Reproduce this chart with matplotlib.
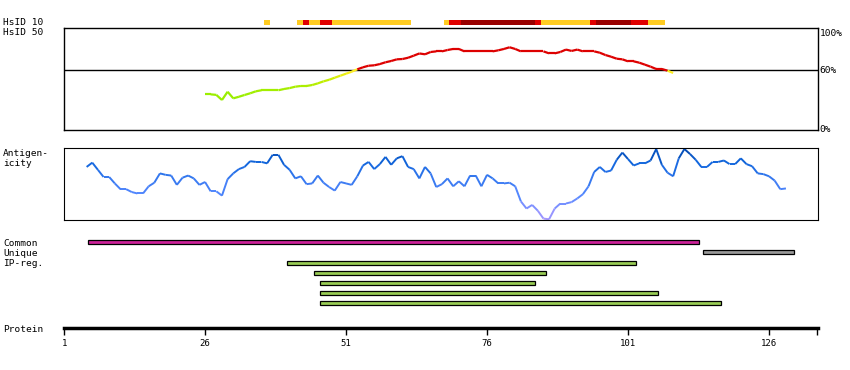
import numpy as np
import matplotlib
matplotlib.use("Agg")
import matplotlib.pyplot as plt
from matplotlib.collections import LineCollection
from matplotlib.colors import LinearSegmentedColormap

# residue numbering of the protein axis
tick_res = [1, 26, 51, 76, 101, 126]
tick_labels = ["1", "26", "51", "76", "101", "126"]
x_lo, x_hi = 0.9, 134.6

# HsID 10 strip: (start, end, level) 1=orange 2=red 3=dark red
hs10_start = [36.4, 42.3, 43.4, 44.4, 46.4, 48.5, 68.4, 69.3, 71.4, 84.5, 85.6, 94.3, 95.3, 101.5, 104.5]
hs10_end = [37.6, 43.4, 44.4, 46.4, 48.5, 62.5, 69.3, 71.4, 84.5, 85.6, 94.3, 95.3, 101.5, 104.5, 107.6]
hs10_level = [1, 1, 2, 1, 2, 1, 1, 2, 3, 2, 1, 2, 3, 2, 1]

# HsID 50 identity (%), residues 26..109
hs50_res = list(range(26, 110))
hs50_val = [37.0, 37.0, 36.5, 31.6, 39.5, 33.2, 34.7, 36.4, 38.0, 39.9, 40.9, 40.9, 40.9, 40.9,
            42.1, 43.0, 44.3, 45.0, 45.0, 45.9, 47.5, 49.4, 50.9, 52.9, 54.8, 56.7, 58.6, 60.9,
            62.8, 64.3, 64.7, 65.9, 67.6, 68.8, 70.4, 70.7, 71.9, 73.9, 76.0, 75.2, 77.4, 78.0,
            78.0, 79.3, 80.3, 80.3, 78.0, 78.0, 78.0, 78.0, 78.0, 78.0, 79.0, 80.3, 81.9, 80.3,
            78.0, 78.0, 78.0, 78.0, 78.0, 76.1, 76.1, 77.4, 79.7, 78.4, 79.7, 78.0, 78.0, 78.0,
            76.7, 74.5, 72.9, 71.0, 70.4, 68.5, 68.5, 67.2, 65.3, 63.4, 61.2, 61.2, 59.6, 57.4]

# antigenicity score (0-100), residues 5..129
ag_res = list(range(5, 130))
ag_val = [74, 80, 70, 60, 60, 51, 43, 43, 39, 37, 37, 47, 52, 65, 63, 62, 49, 59, 62, 58,
          49, 53, 40, 40, 34, 57, 65, 71, 74, 82, 81, 81, 79, 91, 91, 77, 70, 58, 61, 50,
          51, 62, 52, 46, 41, 53, 51, 49, 61, 76, 81, 71, 78, 88, 77, 86, 89, 74, 71, 58,
          74, 65, 46, 50, 58, 47, 54, 47, 62, 62, 47, 63, 58, 51, 51, 52, 47, 26, 16, 21,
          13, 2, 1, 16, 23, 23, 25, 30, 36, 47, 67, 74, 67, 69, 84, 94, 85, 76, 79, 79,
          83, 99, 77, 66, 61, 86, 99, 92, 84, 74, 74, 81, 81, 83, 78, 78, 86, 78, 75, 65,
          64, 61, 55, 43, 44]

# feature bars
bar_names = ["Common", "Unique", "IP", "IP", "IP", "IP", "IP"]
bar_start = [5.3, 114.3, 40.5, 45.4, 46.4, 46.4, 46.4]
bar_end = [113.5, 130.4, 102.4, 86.4, 84.5, 106.4, 117.4]
bar_colors = {"Common": "#cc2299", "Unique": "#999999", "IP": "#99cc55"}

W, H = 850, 370
fig = plt.figure(figsize=(8.5, 3.7), dpi=100)
mono = "DejaVu Sans Mono"


def add_ax(left, top, right, bottom):
    return fig.add_axes([left / W, 1 - bottom / H, (right - left) / W, (bottom - top) / H])


# HsID 10 strip
ax10 = add_ax(63.5, 19.5, 817.5, 24.5)
lvl_col = {1: "#ffcc22", 2: "#e00000", 3: "#990000"}
for s, e, l in zip(hs10_start, hs10_end, hs10_level):
    ax10.barh(0, e - s, left=s, height=1, color=lvl_col[l], linewidth=0)
ax10.set_xlim(x_lo, x_hi)
ax10.set_ylim(-0.5, 0.5)
ax10.axis("off")

# HsID 50 panel
ax50 = add_ax(63.5, 28.3, 817.5, 130)
ax50.set_xlim(x_lo, x_hi)
ax50.set_ylim(3, 100)
ax50.axhline(60, color="black", lw=1)
cmap50 = LinearSegmentedColormap.from_list(
    "hs", [(0, "#99ee00"), (0.4, "#aaee00"), (0.7, "#ccee00"), (1.0, "#ffee22")])
x50 = np.array(hs50_res, dtype=float)
y50 = np.array(hs50_val)
pts = np.column_stack([x50, y50]).reshape(-1, 1, 2)
segs = np.concatenate([pts[:-1], pts[1:]], axis=1)
mid = (y50[:-1] + y50[1:]) / 2
cols = [("#dd0000" if m >= 60 else cmap50(np.clip((m - 35) / 24, 0, 1))) for m in mid]
ax50.add_collection(LineCollection(segs, colors=cols, linewidths=1.6))
ax50.set_xticks([])
ax50.set_yticks([])
for sp in ax50.spines.values():
    sp.set_linewidth(1)
for v, t in [(95, "100%"), (60, "60%"), (3, "0%")]:
    ax50.text(1.003, v, t, transform=ax50.get_yaxis_transform(), va="center",
              ha="left", fontsize=6.8, family=mono)

# antigenicity panel
axag = add_ax(63.5, 148.3, 817.5, 220)
axag.set_xlim(x_lo, x_hi)
axag.set_ylim(0, 100)
cmapag = LinearSegmentedColormap.from_list(
    "ag", [(0, "#aa99ff"), (0.35, "#5588ff"), (0.6, "#3377ee"), (0.8, "#1166dd"), (1.0, "#0044aa")])
xa = np.array(ag_res, dtype=float)
ya = np.array(ag_val, dtype=float)
pts = np.column_stack([xa, ya]).reshape(-1, 1, 2)
segs = np.concatenate([pts[:-1], pts[1:]], axis=1)
mid = (ya[:-1] + ya[1:]) / 2
axag.add_collection(LineCollection(segs, colors=cmapag(mid / 100), linewidths=1.4))
axag.set_xticks([])
axag.set_yticks([])

# feature bars
axb = add_ax(63.5, 237.5, 817.5, 307.5)
axb.set_xlim(x_lo, x_hi)
axb.set_ylim(len(bar_names) - 0.5, -0.5)
for i, (n, s, e) in enumerate(zip(bar_names, bar_start, bar_end)):
    axb.barh(i, e - s, left=s, height=0.4, color=bar_colors[n],
             edgecolor="black", linewidth=0.9)
axb.axis("off")

# protein axis
axp = add_ax(63.5, 300, 817.5, 328)
axp.set_xlim(x_lo, x_hi)
for k in ["top", "left", "right"]:
    axp.spines[k].set_visible(False)
axp.spines["bottom"].set_linewidth(2.5)
axp.set_yticks([])
axp.set_xticks(tick_res + [x_hi - 0.1])
axp.set_xticklabels(tick_labels + [""], fontsize=6.5, family=mono)
axp.tick_params(axis="x", length=5, width=1, pad=3)
axp.patch.set_visible(False)

# left labels
for y, t in [(22.7, "HsID 10"), (32.7, "HsID 50"), (153.3, "Antigen-"), (163.3, "icity"),
             (243.3, "Common"), (253.3, "Unique"), (263.3, "IP-reg."), (329, "Protein")]:
    fig.text(3 / W, 1 - y / H, t, fontsize=6.8, family=mono, va="center", ha="left")

fig.savefig("out.png", dpi=100)
